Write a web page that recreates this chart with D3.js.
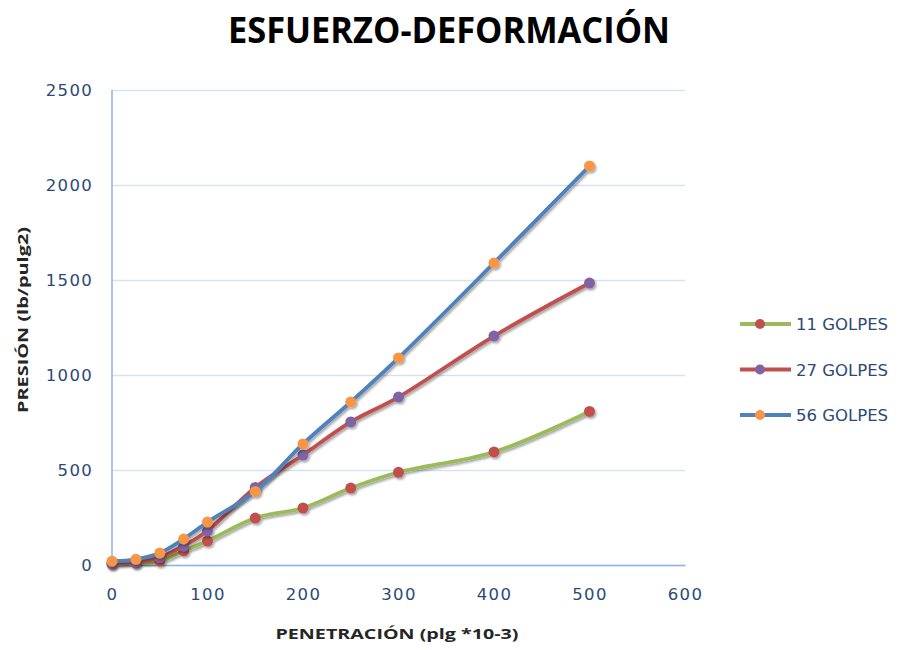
<!DOCTYPE html>
<html>
<head>
<meta charset="utf-8">
<script src="https://cdn.jsdelivr.net/npm/d3@7"></script>
<style>
  html, body { margin: 0; padding: 0; background: #fff; }
  svg { display: block; }
</style>
</head>
<body>
<svg id="chart" width="902" height="650"></svg>
<script>
// Penetration readings (plg *10-3)
const penetracion = [0, 25, 50, 75, 100, 150, 200, 250, 300, 400, 500];
// Pressure (lb/pulg2) for each compaction energy
const golpes11 = [5, 10, 20, 74, 126, 247, 300, 405, 488, 595, 808];
const golpes27 = [8, 15, 40, 100, 180, 408, 579, 753, 884, 1205, 1484];
const golpes56 = [20, 30, 63, 137, 226, 387, 637, 858, 1090, 1590, 2100];
const seriesNames = ["11 GOLPES", "27 GOLPES", "56 GOLPES"];
const lineColors = ["#9BBB59", "#C0504D", "#4F81BD"];
const markerColors = ["#C0504D", "#8064A2", "#F79646"];
const xTicks = [0, 100, 200, 300, 400, 500, 600];
const yTicks = [0, 500, 1000, 1500, 2000, 2500];

const svg = d3.select("#chart");
const font = "'Open Sans', 'Liberation Sans', sans-serif";
const tickFont = "'DejaVu Sans', sans-serif";
const tickColor = "#2B4A78";

const x = d3.scaleLinear().domain([0, 600]).range([112, 685]);
const y = d3.scaleLinear().domain([0, 2500]).range([565, 90]);

// soft drop shadow used by lines and markers
const defs = svg.append("defs");
const f = defs.append("filter").attr("id", "shadow")
  .attr("x", "-20%").attr("y", "-20%").attr("width", "140%").attr("height", "140%");
f.append("feDropShadow").attr("dx", 1.5).attr("dy", 2).attr("stdDeviation", 1.3)
  .attr("flood-color", "#000").attr("flood-opacity", 0.35);

// title
svg.append("text")
  .attr("x", 449).attr("y", 43)
  .attr("text-anchor", "middle")
  .attr("font-family", font).attr("font-weight", 700).attr("font-size", 36)
  .attr("textLength", 442).attr("lengthAdjust", "spacingAndGlyphs")
  .attr("fill", "#000")
  .text("ESFUERZO-DEFORMACIÓN");

// horizontal gridlines and y tick labels
const yAxis = d3.axisLeft(y).tickValues(yTicks).tickSize(-(685 - 112)).tickPadding(19).tickFormat(d3.format("d"));
const gy = svg.append("g").attr("transform", "translate(112,0)").call(yAxis);
gy.select(".domain").remove();
gy.selectAll(".tick line").attr("stroke", "#D5E2F3").attr("stroke-width", 1.5);
gy.selectAll(".tick text")
  .attr("font-family", tickFont).attr("font-size", 16.5).attr("letter-spacing", 1.3)
  .attr("fill", tickColor);

// y axis line
svg.append("line").attr("x1", 112).attr("x2", 112).attr("y1", 90).attr("y2", 565)
  .attr("stroke", "#8DB3E2").attr("stroke-width", 1.5);

// x axis
const xAxis = d3.axisBottom(x).tickValues(xTicks).tickSize(0).tickPadding(23).tickFormat(d3.format("d"));
const gx = svg.append("g").attr("transform", "translate(0,565)").call(xAxis);
gx.select(".domain").attr("stroke", "#8DB3E2").attr("stroke-width", 1.5);
gx.selectAll(".tick text")
  .attr("font-family", tickFont).attr("font-size", 16.5).attr("letter-spacing", 1.3)
  .attr("fill", tickColor);

// axis titles
svg.append("text")
  .attr("x", 397).attr("y", 639).attr("text-anchor", "middle")
  .attr("font-family", font).attr("font-weight", 700).attr("font-size", 15)
  .attr("textLength", 243).attr("lengthAdjust", "spacingAndGlyphs")
  .attr("fill", "#262626")
  .text("PENETRACIÓN (plg *10-3)");
svg.append("text")
  .attr("transform", "translate(28,320) rotate(-90)")
  .attr("text-anchor", "middle")
  .attr("font-family", font).attr("font-weight", 700).attr("font-size", 15)
  .attr("textLength", 186).attr("lengthAdjust", "spacingAndGlyphs")
  .attr("fill", "#262626")
  .text("PRESIÓN (lb/pulg2)");

// series
const seriesValues = [golpes11, golpes27, golpes56];
const line = d3.line()
  .x((d, i) => x(penetracion[i]))
  .y(d => y(d))
  .curve(d3.curveCatmullRom.alpha(0.5));

seriesValues.forEach((vals, s) => {
  const g = svg.append("g").attr("filter", "url(#shadow)");
  g.append("path")
    .attr("d", line(vals))
    .attr("fill", "none")
    .attr("stroke", lineColors[s])
    .attr("stroke-width", 3.8)
    .attr("stroke-linecap", "round");
  g.selectAll("circle").data(vals).join("circle")
    .attr("cx", (d, i) => x(penetracion[i]))
    .attr("cy", d => y(d))
    .attr("r", 5.5)
    .attr("fill", markerColors[s]);
});

// legend
const legend = svg.append("g");
seriesNames.forEach((name, s) => {
  const ly = 324 + s * 45.5;
  const row = legend.append("g");
  row.append("line").attr("x1", 740).attr("x2", 791).attr("y1", ly).attr("y2", ly)
    .attr("stroke", lineColors[s]).attr("stroke-width", 3.8);
  row.append("circle").attr("cx", 760).attr("cy", ly).attr("r", 5)
    .attr("fill", markerColors[s]);
  row.append("text").attr("x", 796).attr("y", ly + 6)
    .attr("font-family", tickFont).attr("font-size", 16.5)
    .attr("fill", tickColor)
    .text(name);
});
</script>
</body>
</html>
